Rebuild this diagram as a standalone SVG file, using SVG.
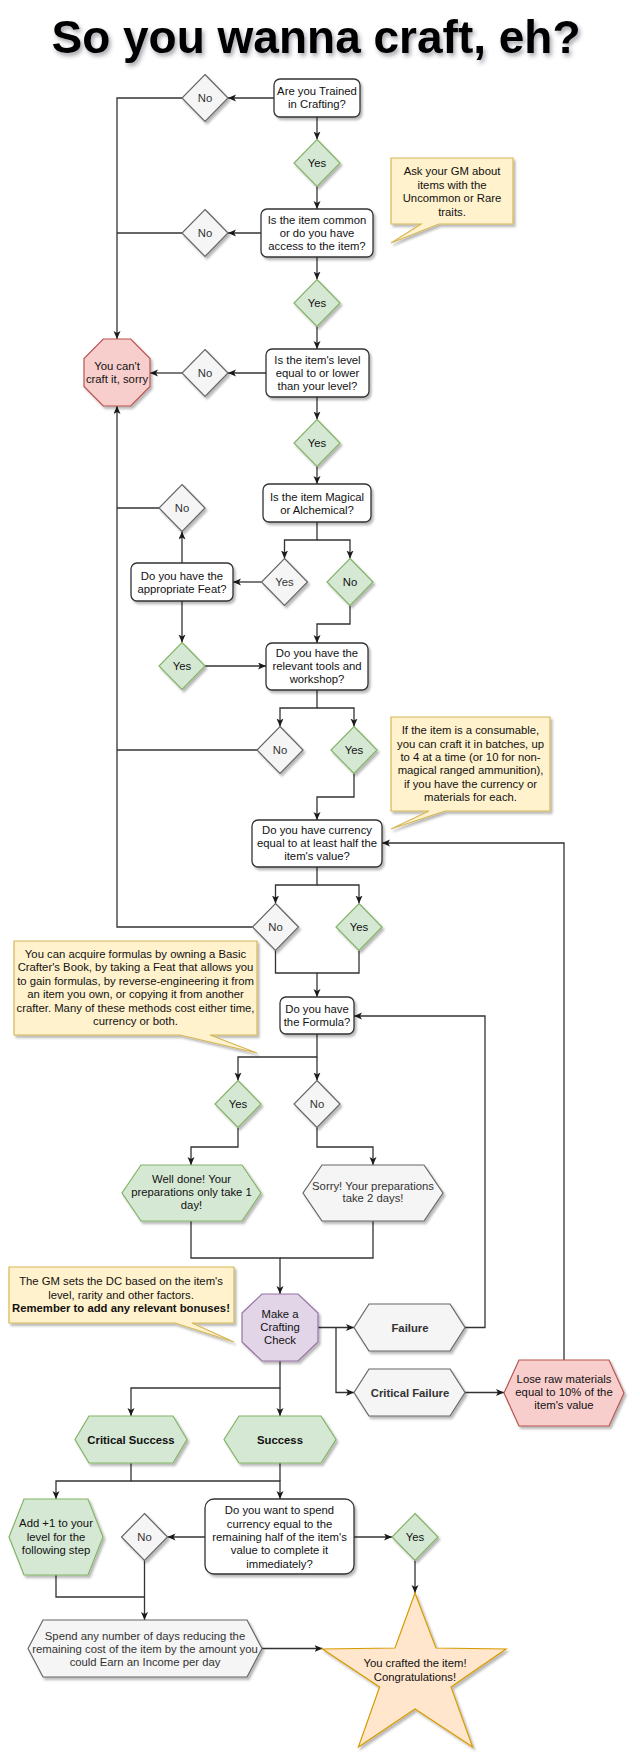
<svg xmlns="http://www.w3.org/2000/svg" width="640" height="1762" viewBox="0 0 640 1762">
<defs>
<filter id="sh" x="-20%" y="-20%" width="150%" height="150%">
<feDropShadow dx="2" dy="2.5" stdDeviation="1.2" flood-color="#000" flood-opacity="0.28"/>
</filter>
<filter id="tsh" x="-10%" y="-30%" width="120%" height="170%">
<feDropShadow dx="2" dy="3" stdDeviation="2" flood-color="#334" flood-opacity="0.45"/>
</filter>
<marker id="ar" markerUnits="userSpaceOnUse" markerWidth="9" markerHeight="8" refX="8" refY="3.5" orient="auto">
<path d="M0,0 L8,3.5 L0,7 L2,3.5 Z" fill="#1a1a1a"/>
</marker>
</defs>
<style>
text{font-family:"Liberation Sans",Arial,Helvetica,sans-serif;font-size:11.3px;text-anchor:middle;fill:#111}
.box{fill:#fff;stroke:#333;stroke-width:1.3;filter:url(#sh)}
.gd{fill:#d5e8d4;stroke:#82b366;stroke-width:1.2;filter:url(#sh)}
.wd{fill:#f5f5f5;stroke:#666;stroke-width:1.2;filter:url(#sh)}
.red{fill:#f8cecc;stroke:#b85450;stroke-width:1.2;filter:url(#sh)}
.pur{fill:#e1d5e7;stroke:#9673a6;stroke-width:1.2;filter:url(#sh)}
.note{fill:#fff2cc;stroke:#d6b656;stroke-width:1.2;filter:url(#sh)}
.star{fill:#ffe6cc;stroke:#d79b00;stroke-width:1.2;filter:url(#sh)}
.gt{fill:#333}
.b{font-weight:bold}
#edges path{fill:none;stroke:#333;stroke-width:1.3}
#edges path.a{marker-end:url(#ar)}
.title{font-size:46px;font-weight:bold;fill:#000;filter:url(#tsh)}
</style>
<rect width="640" height="1762" fill="#fff"/>
<text class="title" x="316" y="53">So you wanna craft, eh?</text>

<g id="edges">
<path class="a" d="M274,98 H228"/>
<path class="a" d="M182,98 H117 V339"/>
<path class="a" d="M317,117 V139.5"/>
<path class="a" d="M317,186.5 V209"/>
<path class="a" d="M261,233 H228"/>
<path d="M182,233 H117"/>
<path class="a" d="M317,257 V279.5"/>
<path class="a" d="M317,326.5 V349"/>
<path class="a" d="M266,373 H228"/>
<path class="a" d="M182,373 H150"/>
<path class="a" d="M317,397 V419.5"/>
<path class="a" d="M317,466.5 V484"/>
<path class="a" d="M317,522 V540 H284.5 V558.5"/>
<path class="a" d="M317,540 H350 V558.5"/>
<path class="a" d="M261.5,582 H233"/>
<path class="a" d="M182,563 V531.5"/>
<path d="M159,508 H117"/>
<path class="a" d="M182,601 V642.5"/>
<path class="a" d="M350,605.5 V624 H317 V643"/>
<path class="a" d="M205,666 H266"/>
<path class="a" d="M317,690 V708 H280 V726.5"/>
<path class="a" d="M317,708 H354 V726.5"/>
<path d="M257,750 H117"/>
<path class="a" d="M354,773.5 V797 H317 V820"/>
<path class="a" d="M317,867 V885 H275.5 V903.5"/>
<path class="a" d="M317,885 H359 V903.5"/>
<path class="a" d="M252.5,927 H117 V406"/>
<path class="a" d="M275.5,950.5 V973 H317 V997"/>
<path d="M359,950.5 V973 H317"/>
<path class="a" d="M317,1034 V1057 H238 V1080.5"/>
<path class="a" d="M317,1057 V1080.5"/>
<path class="a" d="M238,1127.5 V1147 H191 V1165"/>
<path class="a" d="M317,1127.5 V1147 H373 V1165"/>
<path class="a" d="M191,1221 V1258 H280 V1294"/>
<path d="M373,1221 V1258 H280"/>
<path class="a" d="M318,1327.5 H354"/>
<path class="a" d="M336,1327.5 V1392.5 H354"/>
<path class="a" d="M465,1327.5 H485 V1016 H354"/>
<path class="a" d="M465,1392.5 H504"/>
<path class="a" d="M564,1360 V843 H382"/>
<path class="a" d="M280,1361 V1388 H131 V1416"/>
<path class="a" d="M280,1388 V1416"/>
<path class="a" d="M131,1463 V1481 H56 V1499"/>
<path class="a" d="M131,1481 H280 V1499"/>
<path d="M280,1463 V1481"/>
<path class="a" d="M205,1537 H167.5"/>
<path class="a" d="M354,1537 H392"/>
<path class="a" d="M415,1560.5 V1593"/>
<path class="a" d="M144.5,1560.5 V1620"/>
<path d="M56,1575 V1597 H144.5"/>
<path class="a" d="M262,1648.5 H322.5"/>
</g>

<g id="q1"><rect class="box" x="274" y="79" width="86" height="38" rx="6"/><text x="317" y="95.3">Are you Trained</text><text x="317" y="108.3">in Crafting?</text></g>
<g id="no1"><polygon class="wd" points="205,74.5 228,98 205,121.5 182,98"/><text class="gt" x="205" y="102">No</text></g>
<g id="yes1"><polygon class="gd" points="317,139.5 340,163 317,186.5 294,163"/><text x="317" y="167">Yes</text></g>
<g id="q2"><rect class="box" x="261" y="209" width="112" height="48" rx="6"/><text x="317" y="224">Is the item common</text><text x="317" y="237">or do you have</text><text x="317" y="250">access to the item?</text></g>
<g id="no2"><polygon class="wd" points="205,209.5 228,233 205,256.5 182,233"/><text class="gt" x="205" y="237">No</text></g>
<g id="note1"><path class="note" d="M391,158 H513 V224 H439 L391,243 L421,224 H391 Z"/><text x="452" y="175">Ask your GM about</text><text x="452" y="189">items with the</text><text x="452" y="202">Uncommon or Rare</text><text x="452" y="216">traits.</text></g>
<g id="yes2"><polygon class="gd" points="317,279.5 340,303 317,326.5 294,303"/><text x="317" y="307">Yes</text></g>
<g id="q3"><rect class="box" x="266" y="349" width="103" height="48" rx="6"/><text x="317.5" y="363.7">Is the item's level</text><text x="317.5" y="376.7">equal to or lower</text><text x="317.5" y="389.7">than your level?</text></g>
<g id="no3"><polygon class="wd" points="205,349.5 228,373 205,396.5 182,373"/><text class="gt" x="205" y="377">No</text></g>
<g id="cant"><polygon class="red" points="103.3,339 130.7,339 150,358.5 150,386.5 130.7,406 103.3,406 84,386.5 84,358.5"/><text x="117" y="370">You can't</text><text x="117" y="383.3">craft it, sorry</text></g>
<g id="yes3"><polygon class="gd" points="317,419.5 340,443 317,466.5 294,443"/><text x="317" y="447">Yes</text></g>
<g id="q4"><rect class="box" x="263" y="484" width="108" height="38" rx="6"/><text x="317" y="500.7">Is the item Magical</text><text x="317" y="513.7">or Alchemical?</text></g>
<g id="yesw"><polygon class="wd" points="284.5,558.5 307.5,582 284.5,605.5 261.5,582"/><text class="gt" x="284.5" y="586">Yes</text></g>
<g id="nog"><polygon class="gd" points="350,558.5 373,582 350,605.5 327,582"/><text x="350" y="586">No</text></g>
<g id="feat"><rect class="box" x="131" y="563" width="102" height="38" rx="6"/><text x="182" y="579.7">Do you have the</text><text x="182" y="592.7">appropriate Feat?</text></g>
<g id="nofeat"><polygon class="wd" points="182,484.5 205,508 182,531.5 159,508"/><text class="gt" x="182" y="512">No</text></g>
<g id="yesfeat"><polygon class="gd" points="182,642.5 205,666 182,689.5 159,666"/><text x="182" y="670">Yes</text></g>
<g id="q5"><rect class="box" x="266" y="643" width="102" height="47" rx="6"/><text x="317" y="657">Do you have the</text><text x="317" y="670">relevant tools and</text><text x="317" y="683">workshop?</text></g>
<g id="no5"><polygon class="wd" points="280,726.5 303,750 280,773.5 257,750"/><text class="gt" x="280" y="754">No</text></g>
<g id="yes5"><polygon class="gd" points="354,726.5 377,750 354,773.5 331,750"/><text x="354" y="754">Yes</text></g>
<g id="note2"><path class="note" d="M391,717 H550 V811 H445 L391,829 L429,811 H391 Z"/><text x="470.5" y="734">If the item is a consumable,</text><text x="470.5" y="748">you can craft it in batches, up</text><text x="470.5" y="761">to 4 at a time (or 10 for non-</text><text x="470.5" y="774">magical ranged ammunition),</text><text x="470.5" y="788">if you have the currency or</text><text x="470.5" y="801">materials for each.</text></g>
<g id="q6"><rect class="box" x="252" y="820" width="130" height="47" rx="6"/><text x="317" y="834">Do you have currency</text><text x="317" y="847">equal to at least half the</text><text x="317" y="860">item's value?</text></g>
<g id="no6"><polygon class="wd" points="275.5,903.5 298.5,927 275.5,950.5 252.5,927"/><text class="gt" x="275.5" y="931">No</text></g>
<g id="yes6"><polygon class="gd" points="359,903.5 382,927 359,950.5 336,927"/><text x="359" y="931">Yes</text></g>
<g id="note3"><path class="note" d="M14,941 H257 V1035 H210 L257,1053 L180,1035 H14 Z"/><text x="135.5" y="958">You can acquire formulas by owning a Basic</text><text x="135.5" y="971.3">Crafter's Book, by taking a Feat that allows you</text><text x="135.5" y="984.7">to gain formulas, by reverse-engineering it from</text><text x="135.5" y="998">an item you own, or copying it from another</text><text x="135.5" y="1011.7">crafter. Many of these methods cost either time,</text><text x="135.5" y="1024.7">currency or both.</text></g>
<g id="q7"><rect class="box" x="280" y="997" width="74" height="37" rx="6"/><text x="317" y="1012.7">Do you have</text><text x="317" y="1025.7">the Formula?</text></g>
<g id="yes7"><polygon class="gd" points="238,1080.5 261,1104 238,1127.5 215,1104"/><text x="238" y="1108">Yes</text></g>
<g id="no7"><polygon class="wd" points="317,1080.5 340,1104 317,1127.5 294,1104"/><text class="gt" x="317" y="1108">No</text></g>
<g id="welldone"><polygon class="gd" points="141,1165 242,1165 261,1193 242,1221 141,1221 122,1193"/><text x="191.5" y="1183">Well done! Your</text><text x="191.5" y="1196">preparations only take 1</text><text x="191.5" y="1209">day!</text></g>
<g id="sorry"><polygon class="wd" points="322,1165 424,1165 443,1193 424,1221 322,1221 303,1193"/><text class="gt" x="373" y="1189.7">Sorry! Your preparations</text><text class="gt" x="373" y="1202.3">take 2 days!</text></g>
<g id="note4"><path class="note" d="M9,1267 H234 V1323 H192 L234,1342 L175,1323 H9 Z"/><text x="121" y="1285.3">The GM sets the DC based on the item's</text><text x="121" y="1298.7">level, rarity and other factors.</text><text class="b" x="121" y="1311.7">Remember to add any relevant bonuses!</text></g>
<g id="check"><polygon class="pur" points="262,1294 298,1294 318,1313 318,1342 298,1361 262,1361 242,1342 242,1313"/><text x="280" y="1318.3">Make a</text><text x="280" y="1331.3">Crafting</text><text x="280" y="1344.3">Check</text></g>
<g id="failure"><polygon class="wd" points="369,1304 450,1304 465,1327.5 450,1351 369,1351 354,1327.5"/><text class="gt b" x="410" y="1331.5">Failure</text></g>
<g id="critfail"><polygon class="wd" points="369,1369 450,1369 465,1392.5 450,1416 369,1416 354,1392.5"/><text class="gt b" x="410" y="1396.5">Critical Failure</text></g>
<g id="lose"><polygon class="red" points="519,1360 609,1360 624,1393 609,1426 519,1426 504,1393"/><text x="564" y="1383.3">Lose raw materials</text><text x="564" y="1396.3">equal to 10% of the</text><text x="564" y="1409.3">item's value</text></g>
<g id="critsuccess"><polygon class="gd" points="89,1416 173,1416 187,1439.5 173,1463 89,1463 75,1439.5"/><text class="b" x="131" y="1443.5">Critical Success</text></g>
<g id="success"><polygon class="gd" points="239,1416 321,1416 336,1439.5 321,1463 239,1463 224,1439.5"/><text class="b" x="280" y="1443.5">Success</text></g>
<g id="addone"><polygon class="gd" points="24,1499 88,1499 103,1537 88,1575 24,1575 9,1537"/><text x="56" y="1527.3">Add +1 to your</text><text x="56" y="1540.7">level for the</text><text x="56" y="1554">following step</text></g>
<g id="q8"><rect class="box" x="205" y="1499" width="149" height="75" rx="9"/><text x="279.5" y="1514">Do you want to spend</text><text x="279.5" y="1527.7">currency equal to the</text><text x="279.5" y="1540.7">remaining half of the item's</text><text x="279.5" y="1554">value to complete it</text><text x="279.5" y="1567.7">immediately?</text></g>
<g id="no8"><polygon class="wd" points="144.5,1513.5 167.5,1537 144.5,1560.5 121.5,1537"/><text class="gt" x="144.5" y="1541">No</text></g>
<g id="yes8"><polygon class="gd" points="415,1513.5 438,1537 415,1560.5 392,1537"/><text x="415" y="1541">Yes</text></g>
<g id="spend"><polygon class="wd" points="43,1620 247,1620 262,1648.5 247,1677 43,1677 28,1648.5"/><text class="gt" x="145" y="1639.7">Spend any number of days reducing the</text><text class="gt" x="145" y="1652.7">remaining cost of the item by the amount you</text><text class="gt" x="145" y="1665.7">could Earn an Income per day</text></g>
<g id="done"><polygon class="star" points="415,1593 395,1648 322.5,1649 379.6,1687 358.4,1747 415,1709 472.7,1747 451,1687 506,1649 436,1648"/><text x="415" y="1667.3">You crafted the item!</text><text x="415" y="1680.7">Congratulations!</text></g>
</svg>
